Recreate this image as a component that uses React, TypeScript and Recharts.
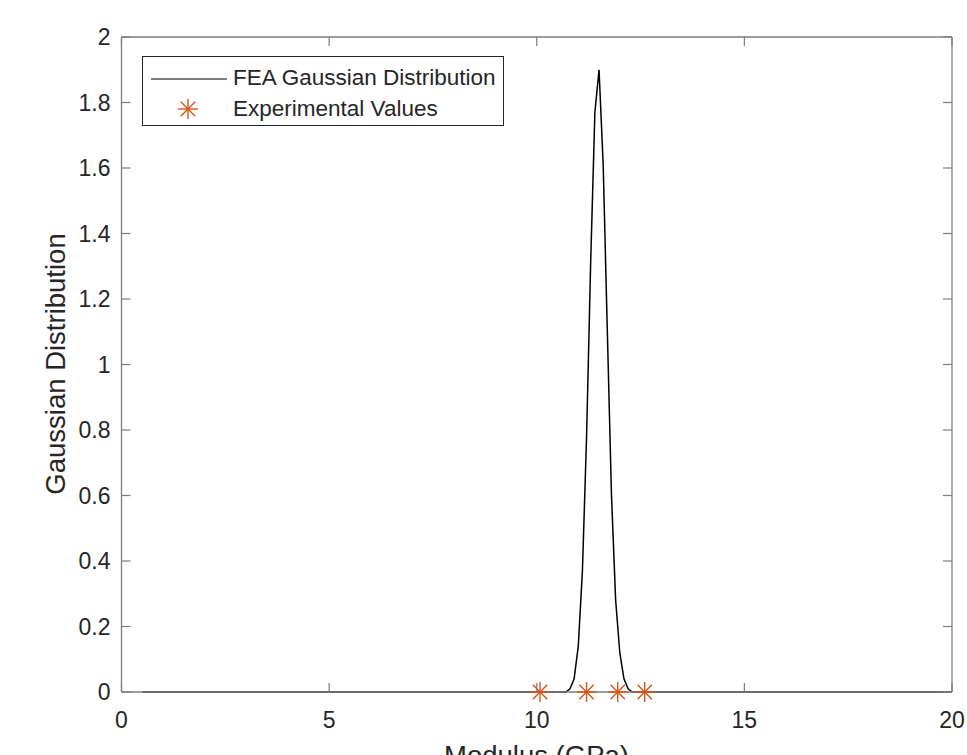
import { ComposedChart, Line, Scatter, XAxis, YAxis, Legend, Label } from 'recharts';

// FEA curve (modulus in GPa vs density)
const curveX = [0.5, 10.7, 10.8, 10.9, 11.0, 11.1, 11.2, 11.3, 11.4, 11.5, 11.6, 11.7, 11.8, 11.9, 12.0, 12.1, 12.2, 12.3, 20];
const curveY = [0, 0, 0.01, 0.04, 0.14, 0.37, 0.78, 1.32, 1.77, 1.9, 1.61, 1.1, 0.6, 0.28, 0.12, 0.04, 0.01, 0, 0];

// experimental moduli, all drawn on the zero line
const expX = [10.08, 11.2, 11.95, 12.6];
const expY = [0, 0, 0, 0];

const xTicks = [0, 5, 10, 15, 20];
const yTicks = [0, 0.2, 0.4, 0.6, 0.8, 1, 1.2, 1.4, 1.6, 1.8, 2];

const curve = curveX.map((x, i) => ({ x, y: curveY[i] }));
const experimental = expX.map((x, i) => ({ x, y: expY[i] }));

const FONT = '"Liberation Sans", Arial, Helvetica, sans-serif';
const AXIS = '#7d7d7d';
const TEXT = '#262626';
const ORANGE = '#D95319';

function Star({ cx, cy, r = 10 }: { cx: number; cy: number; r?: number }) {
  const d = r * 0.72;
  return (
    <g stroke={ORANGE} strokeWidth={1.4}>
      <line x1={cx - r} y1={cy} x2={cx + r} y2={cy} />
      <line x1={cx} y1={cy - r} x2={cx} y2={cy + r} />
      <line x1={cx - d} y1={cy - d} x2={cx + d} y2={cy + d} />
      <line x1={cx - d} y1={cy + d} x2={cx + d} y2={cy - d} />
    </g>
  );
}

function StarShape(props: any) {
  return <Star cx={props.cx} cy={props.cy} />;
}

function BottomTick(props: any) {
  const { x, y, payload } = props;
  return (
    <g>
      <line x1={x} y1={y} x2={x} y2={y - 9} stroke={AXIS} strokeWidth={1.2} />
      <text x={x} y={y + 36} textAnchor="middle" fontSize={23} fontFamily={FONT} fill={TEXT}>
        {payload.value}
      </text>
    </g>
  );
}

function TopTick(props: any) {
  const { x, y } = props;
  return <line x1={x} y1={y} x2={x} y2={y + 9} stroke={AXIS} strokeWidth={1.2} />;
}

function LeftTick(props: any) {
  const { x, y, payload } = props;
  return (
    <g>
      <line x1={x} y1={y} x2={x + 9} y2={y} stroke={AXIS} strokeWidth={1.2} />
      <text x={x - 11} y={y + 8} textAnchor="end" fontSize={23} fontFamily={FONT} fill={TEXT}>
        {payload.value}
      </text>
    </g>
  );
}

function RightTick(props: any) {
  const { x, y } = props;
  return <line x1={x} y1={y} x2={x - 9} y2={y} stroke={AXIS} strokeWidth={1.2} />;
}

function LegendBox() {
  return (
    <div
      style={{
        width: 362,
        height: 70,
        border: '1px solid #262626',
        background: '#fff',
        fontFamily: FONT,
        fontSize: 22.5,
        color: TEXT,
        boxSizing: 'border-box',
        position: 'relative',
      }}
    >
      <svg width={90} height={70} style={{ position: 'absolute', left: 0, top: 0 }}>
        <line x1={8} y1={22} x2={84} y2={22} stroke="#000" strokeWidth={1.2} />
        <Star cx={45} cy={52} />
      </svg>
      <div style={{ position: 'absolute', left: 90, top: 8, lineHeight: '26px', whiteSpace: 'nowrap' }}>
        FEA Gaussian Distribution
      </div>
      <div style={{ position: 'absolute', left: 90, top: 39, lineHeight: '26px', whiteSpace: 'nowrap' }}>
        Experimental Values
      </div>
    </div>
  );
}

export default function App() {
  return (
    <div style={{ position: 'absolute', left: 0, top: 0, width: 967, height: 755, background: '#fff', overflow: 'hidden' }}>
      <ComposedChart width={967} height={755} margin={{ top: 36, right: 14, left: 0, bottom: 0 }}>
        <XAxis
          xAxisId="b"
          type="number"
          dataKey="x"
          domain={[0, 20]}
          ticks={xTicks}
          height={63}
          stroke={AXIS}
          strokeWidth={1.3}
          tickSize={0}
          tickMargin={0}
          tick={<BottomTick />}
          allowDataOverflow
        >
          <Label
            content={() => (
              <text x={536.5} y={765} textAnchor="middle" fontSize={27.5} fontFamily={FONT} fill={TEXT}>
                Modulus (GPa)
              </text>
            )}
          />
        </XAxis>
        <XAxis
          xAxisId="t"
          orientation="top"
          type="number"
          dataKey="x"
          domain={[0, 20]}
          ticks={xTicks}
          height={1}
          stroke={AXIS}
          strokeWidth={1.3}
          tickSize={0}
          tickMargin={0}
          tick={<TopTick />}
        />
        <YAxis
          yAxisId="l"
          type="number"
          domain={[0, 2]}
          ticks={yTicks}
          width={121.5}
          stroke={AXIS}
          strokeWidth={1.3}
          tickSize={0}
          tickMargin={0}
          tick={<LeftTick />}
        >
          <Label
            content={() => (
              <text
                x={55}
                y={364}
                textAnchor="middle"
                dominantBaseline="central"
                transform="rotate(-90 55 364)"
                fontSize={27.5}
                fontFamily={FONT}
                fill={TEXT}
              >
                Gaussian Distribution
              </text>
            )}
          />
        </YAxis>
        <YAxis
          yAxisId="r"
          orientation="right"
          type="number"
          domain={[0, 2]}
          ticks={yTicks}
          width={1}
          stroke={AXIS}
          strokeWidth={1.3}
          tickSize={0}
          tickMargin={0}
          tick={<RightTick />}
        />
        <Legend
          layout="vertical"
          align="center"
          verticalAlign="middle"
          wrapperStyle={{ position: 'absolute', left: 142, top: 56, width: 362 }}
          content={() => <LegendBox />}
        />
        {/* invisible copy that ties the top/right box axes to the same scale */}
        <Line
          xAxisId="t"
          yAxisId="r"
          data={curve}
          dataKey="y"
          stroke="none"
          dot={false}
          legendType="none"
          isAnimationActive={false}
        />
        <Line
          xAxisId="b"
          yAxisId="l"
          data={curve}
          dataKey="y"
          type="linear"
          stroke="#000"
          strokeWidth={1.5}
          dot={false}
          isAnimationActive={false}
          name="FEA Gaussian Distribution"
        />
        <Scatter
          xAxisId="b"
          yAxisId="l"
          data={experimental}
          dataKey="y"
          shape={<StarShape />}
          isAnimationActive={false}
          name="Experimental Values"
        />
      </ComposedChart>
    </div>
  );
}
